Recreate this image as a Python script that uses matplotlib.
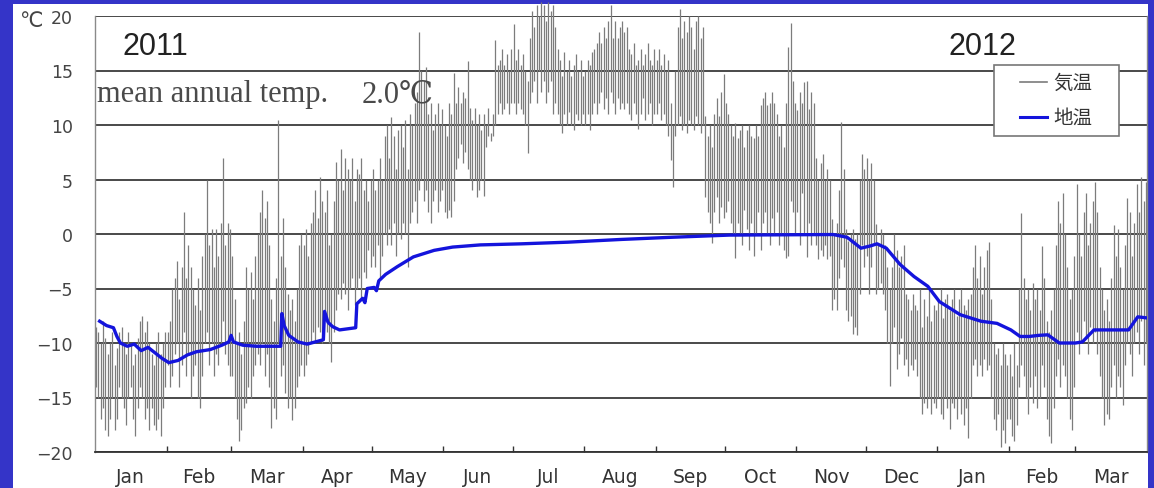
import numpy as np
import matplotlib
matplotlib.use("Agg")
import matplotlib.pyplot as plt
from matplotlib.patches import Rectangle
from matplotlib.lines import Line2D

# months shown on the x axis (Jan 2011 .. Mar 2012)
month_names = ['Jan', 'Feb', 'Mar', 'Apr', 'May', 'Jun', 'Jul', 'Aug', 'Sep',
               'Oct', 'Nov', 'Dec', 'Jan', 'Feb', 'Mar']
month_days = [31, 28, 31, 30, 31, 30, 31, 31, 30, 31, 30, 31, 31, 29, 31]

# daily air temperature (気温), max / min
air_hi = (
    [-8.5, -9, -10, -8, -9.5, -11, -10, -9, -12, -10.5, -9, -8.5, -10, -11, -9, -10, -12, -11, -9.5, -8,
     -7.5, -9, -8, -10, -11, -12, -10, -9, -11, -10, -9] +                                  # Jan 2011
    [-9, -8, -5, -4, -2.5, -6, -3, 2, -4, -1, -3, -5, -6.5, -4, -7, -2, 0, 5, -1, 0.5,
     -3, 0.5, -2, 1, 7, -1, 1, 0.5] +                                                       # Feb
    [-2, -6, -10, -9, -11, -8, -3, -5, -3.5, -6, -2, 0, 2, 4, 1.5, 3, -1, -6, -8, -4,
     10.5, -2, 1.5, -3, -5.5, -7, -6, -8, -5, -1, 0] +                                      # Mar
    [-1, 0.5, -2, 1, 2, 4, 1.5, 5.2, 3, 2, 4, -1, 0, 3, 6.6, 5, 7.8, 4, 7, 6,
     5, 7, 3, 6, 5.5, 7, 4, 5, 3, 5] +                                                      # Apr
    [6, 4, 5, 7, 5, 9, 10, 7, 10.7, 9, 6, 9.5, 10, 8, 10.5, 6, 11, 10, 12, 13,
     18.5, 15, 14, 15.3, 11, 12, 9.5, 11, 12, 10, 11.5] +                                   # May
    [10, 9, 12, 11, 14.8, 12, 13.5, 12, 13, 12.5, 15.9, 11.6, 10.5, 11.6, 10, 11, 9.5, 11, 10, 11.6,
     9.3, 11, 17.8, 15.5, 16, 17, 15.5, 16.5, 15, 17] +                                     # Jun
    [19.3, 16, 17, 15.5, 16.5, 15, 14, 18, 20.5, 19, 21, 20, 21.3, 21, 19.5, 21.3, 20.5, 21, 19, 17,
     16, 14.5, 16.7, 15, 16, 14.5, 15.5, 16.5, 15, 16, 14.5] +                              # Jul
    [15, 16, 15.5, 16.7, 17, 17.5, 18.5, 17.5, 19, 18, 19.5, 21, 18, 19.5, 18, 19, 19.5, 18.5, 19, 17,
     16.5, 17.5, 15.5, 16, 17, 15.5, 16.5, 17.5, 16, 15.5, 17] +                            # Aug
    [16, 17, 15.5, 16.5, 15, 16, 12, 10, 15, 19, 20.6, 18, 19.5, 18.5, 20, 19, 17, 19.5, 20, 18,
     19, 10.8, 9, 10, 8, 11, 12.5, 10.8, 13, 14.7] +                                        # Sep
    [12, 11, 10, 9, 10.2, 8.8, 9.5, 10, 8, 9.5, 10, 9, 8.8, 10, 9, 11.8, 12.5, 13, 11.8, 12,
     13, 12, 11, 9, 10, 8, 12, 17.2, 19.4, 14, 12] +                                        # Oct
    [11.4, 13, 12, 13.9, 14, 11.5, 13, 12, 7, 5, 6.5, 7.3, 5, 6, 5, 1.4, 0, 1, 4, 10.3,
     6, 0.5, -0.6, 0, 0.5, -0.5, 0, 5, 7.3, 6] +                                            # Nov
    [7, 5, 6.5, 5, 0.9, -0.9, 0.5, 0, -1, -3, -5, -3, 0, -1.5, -3, -2, -1, -5.5, -6, -7,
     -5.5, -6.5, -7, -5, -8.5, -6, -7.5, -5, -8, -6.5, -7] +                                # Dec
    [-6, -5, -7.7, -6, -5.5, -7, -6, -5, -7.5, -6, -5, -6.5, -7, -6, -5.5, -3, -1, -4, -2, -5.5,
     -3, -1.5, -0.7, -6, -10, -11, -10.5, -12, -10, -11, -12] +                             # Jan 2012
    [-11, -13, -10, -12, -5, 1.9, -4, -6, -5, -7, -4.5, -6, -5, -7, -1.1, -4, -8, -9, -7, -5,
     -1, 3, 1, 3.8, 0, -3, -6, -5, -2] +                                                    # Feb
    [4.6, 0, -2, 2, 3.8, -1, 1, 3, 4.8, 2, -3, -5, -7, -6, -8, -4, 0.8, -2, 0.5, -3,
     -5, -1, 3.3, 2, -2, 1, 4.6, 2, 5.2, 3, 4.8]                                            # Mar
)
air_lo = (
    [-14, -15, -17, -16, -18, -18.5, -17, -15, -18, -17, -14, -15, -16, -17.5, -15, -14, -17, -18.5, -16, -14,
     -15, -17, -16, -18, -16, -17.5, -18, -17, -18.5, -16, -14] +
    [-12, -14, -13, -11, -10, -14, -12, -9, -13, -11, -15, -13, -12, -15, -16, -13, -10, -9, -12, -10,
     -13, -11, -12, -10, -8, -11, -12, -13] +
    [-13, -15, -17, -19, -18, -16, -15.5, -14, -15, -13, -12, -11, -12, -10, -13, -11, -14, -17.8, -16, -17,
     -10, -13, -12, -14.6, -16, -15, -17.1, -16, -14, -13, -12] +
    [-13, -12, -11, -10, -9, -10, -8.5, -9, -10, -8, -9, -10, -11.7, -9, -7, -5.5, -6, -4.5, -5.5, -7,
     -5, -4, -6.5, -5, -4, -6, -3.5, -4, -1.5, -3] +
    [-2, -3, -1, -4, -2, 0, -1, 0.5, -1, 1, -2, 0, -0.5, 1, 0, -3, 1, 2, 3, 1,
     4, 5, 3, 4, 2, 1, 3, 4, 2, 3, 4] +
    [2, 1.5, 2.2, 1.6, 3, 6, 7, 8.3, 6.5, 7.5, 6, 5, 4, 5, 3.4, 4, 5, 3.5, 8, 9,
     8.5, 9, 10, 11, 12, 11, 11.5, 12, 11, 12] +
    [12, 11, 12, 11.5, 11, 10, 7.4, 12, 13, 14, 12, 15, 13, 14, 12, 13, 14, 11, 12, 11,
     10, 9.3, 11, 10, 11.2, 10, 9.5, 11, 10.5, 10, 11] +
    [10, 11, 9.5, 11, 12, 11, 12, 13, 11.5, 12.5, 11, 13, 12, 11, 12.5, 11.5, 12, 11.5, 12, 11,
     10.5, 12, 11, 9.6, 11, 12.5, 10.5, 11, 12, 10, 11] +
    [11, 12, 10.5, 11, 10, 9, 6.8, 4.3, 9, 10, 10.8, 9.5, 10, 9.3, 10.5, 10, 9.5, 10.8, 10, 9.3,
     10, 3.4, 2, 1, -0.8, 2, 3.4, 1, 2.5, 1.5] +
    [2, 3, 1, 0, -2.2, 1, 0, -1, 2.2, 0.5, -1.5, 1, -2, 0, 2, -1.5, 1, 2, 0, -1,
     1.5, 0, 2, -1, 0, -1.5, -2.2, -2, 3, 2, 0] +
    [2, -1, 3.8, 0, -2.1, 1, -1, 0, -1, -2.3, -1.5, -2, -1, -2.3, -2, -7, -6, -7, -4, -2.3,
     -3, -7, -8, -7.5, -9.2, -8.5, -9.3, -5.5, -1, -3] +
    [-2, -5.5, -3, -1, -5.5, -5, -4.5, -5.5, -7, -10, -13.9, -10, -8.5, -12.4, -11, -9.5, -12, -11.5, -13, -12,
     -12.5, -11.5, -13, -15, -16.5, -15.5, -16, -15, -16.5, -15.5, -16] +
    [-15, -16.5, -17, -15, -16, -17.9, -15.5, -16, -17, -15, -16.5, -17.5, -16, -18.7, -15, -12, -11.5, -13, -12, -13,
     -11.5, -12.5, -12, -15, -17, -18, -16.5, -19.5, -18, -19.2, -17] +
    [-17, -18.5, -19, -17.5, -14, -12, -13, -15, -16.5, -14, -15.5, -13, -16, -15, -12, -14, -17, -18.5, -19.2, -16,
     -13, -11.5, -14, -12, -13, -15, -17, -18, -14] +
    [-9, -11, -10, -8, -9.5, -11, -8.5, -10, -9, -11, -13, -15, -17.5, -16.5, -17, -14, -12, -15, -13, -14,
     -15.7, -12, -10, -11, -13, -10, -9, -11, -8, -12, -10]
)

# ground temperature (地温): day number from 1 Jan 2011, value
ground_day = [2, 5, 8, 9.5, 11, 14, 17, 20, 23, 26, 29, 32, 36, 40, 44, 50, 55, 58, 59, 60,
              64, 70, 80.5, 81, 82, 84, 88, 92, 99, 99.5, 101, 103, 106, 113, 113.5, 116, 117, 118, 121, 122,
              123, 126, 131, 138, 147, 155, 167, 185, 205, 228, 250, 275, 320, 326, 332, 336, 339, 343, 349, 355,
              361, 366, 375, 384, 391, 397, 401, 405, 409, 413, 418, 425, 428, 433, 448, 452, 456]
ground_temp = [-8.0, -8.4, -8.6, -9.4, -10.0, -10.3, -10.1, -10.7, -10.4, -10.9, -11.4, -11.8, -11.6, -11.1, -10.8,
               -10.6, -10.2, -9.9, -9.3, -9.9, -10.2, -10.3, -10.3, -7.3, -8.4, -9.3, -9.9, -10.1, -9.7, -7.1,
               -8.1, -8.5, -8.8, -8.6, -6.4, -5.9, -6.3, -5.0, -4.9, -5.2, -4.3, -3.7, -3.0, -2.1, -1.5,
               -1.2, -1.0, -0.9, -0.75, -0.5, -0.3, -0.1, -0.05, -0.3, -1.3, -1.1, -0.9, -1.3, -2.8, -3.9,
               -4.8, -6.2, -7.4, -8.0, -8.2, -8.8, -9.4, -9.4, -9.3, -9.25, -10.0, -10.0, -9.9, -8.8, -8.8,
               -7.6, -7.7]

y_ticks = [20, 15, 10, 5, 0, -5, -10, -15, -20]

W, H = 1154, 489
fig = plt.figure(figsize=(W / 100, H / 100), dpi=100)
fig.patch.set_facecolor('#3434c8')
fig.add_artist(Rectangle((13 / W, 0), (1148 - 13) / W, (H - 5) / H, transform=fig.transFigure,
                         facecolor='white', edgecolor='none', zorder=-5))

ax = fig.add_axes([95 / W, (H - 453) / H, 1052 / W, (453 - 17) / H])
ax.set_facecolor('white')

# air temperature: one thin vertical stroke per day from min to max
days = np.arange(len(air_hi))
air_color = '#7c7c7c'
ground_color = '#1414dc'
ax.vlines(days + 0.5, air_lo, air_hi, color=air_color, lw=0.9, zorder=2, clip_on=False)
ax.plot(ground_day, ground_temp, color=ground_color, lw=2.4, zorder=3)

total = sum(month_days)
edges = np.concatenate([[0], np.cumsum(month_days)])
mids = (edges[:-1] + edges[1:]) / 2
ax.set_xlim(0, total)
ax.set_ylim(-20, 20)

ax.set_xticks(edges[1:-1])
ax.set_xticklabels([])
ax.set_xticks(mids, minor=True)
ax.set_xticklabels(month_names, minor=True)
ax.tick_params(axis='x', which='major', direction='in', length=4, width=1, color='#333333')
ax.tick_params(axis='x', which='minor', length=0, pad=11, labelsize=13.5, labelcolor='#333333')

ax.set_yticks(y_ticks)
ax.set_yticklabels([str(v).replace('-', '\u2212') for v in y_ticks])
ax.tick_params(axis='y', length=0, pad=16, labelsize=12.5, labelcolor='#444444')

for v in y_ticks:
    ax.axhline(v, color='#3a3a3a', lw=1.3, zorder=1)

for s in ['left', 'right']:
    ax.spines[s].set_color('#8a8a8a')
    ax.spines[s].set_linewidth(1.0)
ax.spines['top'].set_visible(False)
ax.spines['bottom'].set_color('#333333')
ax.spines['bottom'].set_linewidth(1.3)

# texts
fig.text(31 / W, 1 - 21 / H, '℃', ha='center', va='center', fontsize=15, color='#444444',
         family=['DejaVu Sans', 'Noto Sans CJK JP'])
fig.text(123 / W, 1 - 55 / H, '2011', ha='left', va='baseline', fontsize=22, color='#222222',
         family='Liberation Sans')
fig.text(948 / W, 1 - 55 / H, '2012', ha='left', va='baseline', fontsize=22, color='#222222',
         family='Liberation Sans')
fig.text(97 / W, 1 - 102 / H, 'mean annual temp.', ha='left', va='baseline', fontsize=22,
         color='#4a4a4a', family=['Liberation Serif', 'DejaVu Serif'], zorder=5)
fig.text(362 / W, 1 - 102 / H, '2.0℃', ha='left', va='baseline', fontsize=22,
         color='#4a4a4a', family=['Liberation Serif', 'DejaVu Serif'], zorder=5)

# legend box
fig.add_artist(Rectangle((994 / W, 1 - 137 / H), 125 / W, 71 / H, transform=fig.transFigure,
                         facecolor='white', edgecolor='#777777', lw=1.2, zorder=6))
for yy, col, lw, lab in [(83, air_color, 1.2, '気温'), (118, ground_color, 2.2, '地温')]:
    fig.add_artist(Line2D([1020 / W, 1047 / W], [1 - yy / H, 1 - yy / H], transform=fig.transFigure,
                          color=col, lw=lw, zorder=7))
    fig.text(1053 / W, 1 - yy / H, lab, ha='left', va='center', fontsize=14, color='#333333',
             family=['Noto Sans CJK JP', 'DejaVu Sans'], zorder=7)

fig.savefig('out.png', dpi=100, facecolor=fig.get_facecolor())
